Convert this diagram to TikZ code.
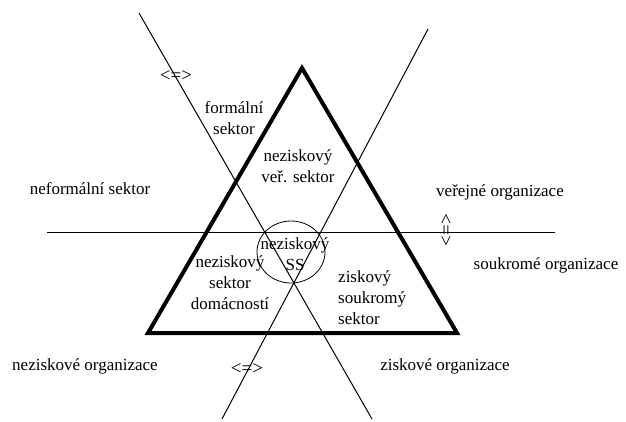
\documentclass[tikz,border=0pt]{standalone}
\usepackage{fontspec}
\setmainfont{Liberation Serif}
\begin{document}
\begin{tikzpicture}[x=1pt,y=-1pt,
  lbl/.style={font=\fontsize{17}{21}\selectfont, inner sep=0pt, align=center},
  lbll/.style={lbl, align=left},
  eqs/.style={lbl, font=\fontsize{19}{21}\selectfont},
  thinline/.style={line width=1pt, black},
  triline/.style={line width=4pt, black, line join=miter}]
\useasboundingbox (0,0) rectangle (626,421);
% lines
\coordinate (l1a) at (139,13);
\coordinate (l1b) at (372,419);
\coordinate (l2a) at (428,29);
\coordinate (l2b) at (222,419);
\coordinate (ha) at (47,232);
\coordinate (hb) at (555,232);
\draw[thinline] (l1a) -- (l1b);
\draw[thinline] (l2a) -- (l2b);
\draw[thinline] (ha) -- (hb);
% triangle
\coordinate (apex) at (302,68);
\coordinate (bl) at (148,333);
\coordinate (br) at (457,333);
\draw[triline] (apex) -- (bl) -- (br) -- cycle;
% circle
\coordinate (cc) at (291,252);
\draw[line width=0.8pt] (cc) ellipse [x radius=34, y radius=31];
% labels
\node[lbl] (formal) at (234,118) {formální\\sektor};
\node[lbl] (nvs) at (298,166) {neziskový\\veř. sektor};
\node[lbl] (neform) at (90,189) {neformální sektor};
\node[lbl] (verej) at (500,192) {veřejné organizace};
\node[lbl] (soukr) at (546,265) {soukromé organizace};
\node[lbl] (nsd) at (230,283) {neziskový\\sektor\\domácností};
\node[lbl] (nss) at (295,254) {neziskový\\SS};
\node[lbll, anchor=west] (zss) at (338,298) {ziskový\\soukromý\\sektor};
\node[lbl] (nzo) at (85,366) {neziskové organizace};
\node[lbl] (zo) at (445,366) {ziskové organizace};
\node[eqs] (eq1) at (176,76) {<=>};
\node[eqs] (eq2) at (247,369) {<=>};
\node[eqs, rotate=90] (eq3) at (447,230) {<=>};
\end{tikzpicture}
\end{document}
